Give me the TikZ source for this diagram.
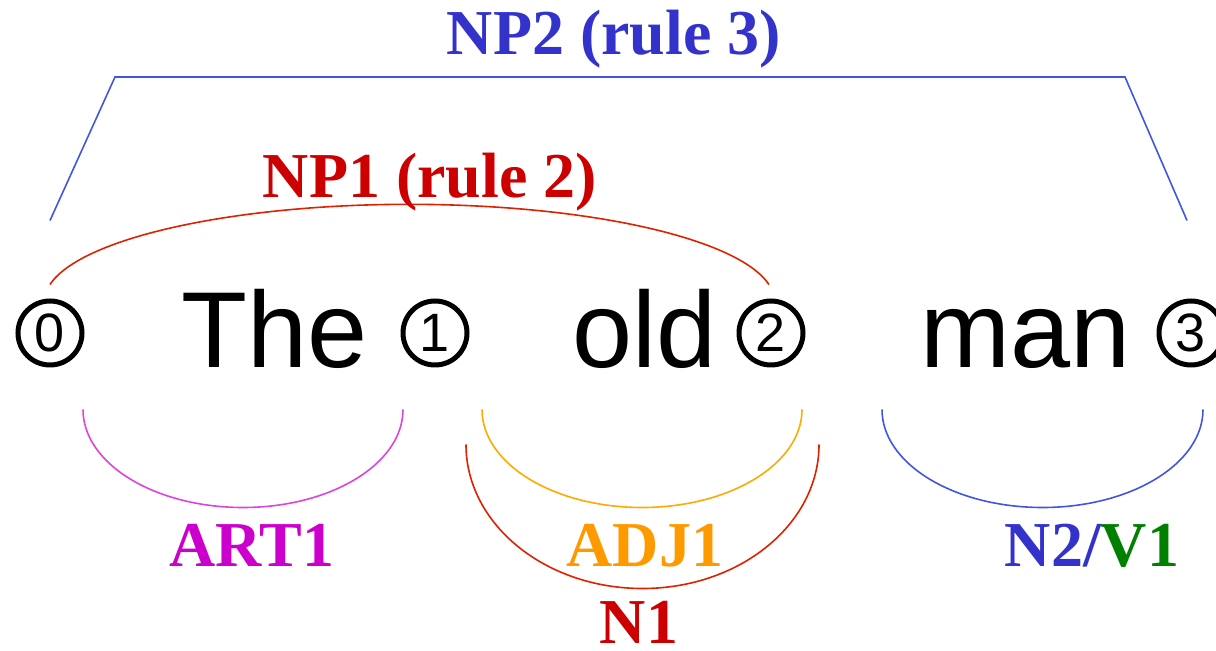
\documentclass[tikz,border=0pt]{standalone}
\usepackage{fontspec}
\setmainfont{Liberation Serif}
\setsansfont{Liberation Sans}
\usepackage{tikz}
\definecolor{nptwo}{RGB}{51,51,204}
\definecolor{nptwoline}{RGB}{68,85,221}
\definecolor{npone}{RGB}{204,0,0}
\definecolor{nponeline}{RGB}{221,34,0}
\definecolor{artcol}{RGB}{204,0,204}
\definecolor{artline}{RGB}{221,68,221}
\definecolor{adjcol}{RGB}{255,153,0}
\definecolor{adjline}{RGB}{255,170,0}
\definecolor{vcol}{RGB}{0,128,0}

\begin{document}
\begin{tikzpicture}[x=0.5pt, y=-0.5pt,
			numnode/.style={draw, circle, line width=2.5pt, minimum size=32pt, inner sep=0pt, font=\sffamily\fontsize{27}{27}\selectfont},
			wordnode/.style={anchor=base, inner sep=0pt, font=\sffamily\fontsize{54}{54}\selectfont},
			labnode/.style={anchor=base, inner sep=0pt, font=\bfseries\fontsize{32}{32}\selectfont},
			thinline/.style={line width=0.8pt}
		]
		\useasboundingbox (0,0) rectangle (1216,651);

		\node[numnode] (n0) at (50,333) {0};
		\node[wordnode] (w1) at (275,368) {The};
		\node[numnode] (n1) at (435,333) {1};
		\node[wordnode] (w2) at (645,368) {old};
		\node[numnode] (n2) at (771,333) {2};
		\node[wordnode] (w3) at (1026,368) {man};
		\node[numnode] (n3) at (1191,333) {3};

		\coordinate (t0) at (115,77);
		\coordinate (t1) at (1125,77);
		\draw[thinline, nptwoline] ([yshift=39pt]n0.north) -- (t0) -- (t1) -- ([xshift=-2pt,yshift=39pt]n3.north);
		\node[labnode, nptwo] (np2) at (614,55) {NP2 (rule 3)};

		\draw[thinline, nponeline] ([yshift=7pt]n0.north) arc[start angle=170, end angle=10, x radius=182.5pt, y radius=48.5pt];
		\node[labnode, npone] (np1) at (430,198) {NP1 (rule 2)};

		\draw[thinline, artline] ([xshift=16.5pt,yshift=-21pt]n0.south) arc[start angle=180, end angle=360, x radius=80pt, y radius=49pt];
		\node[labnode, artcol] (art) at (252,567) {ART1};

		\draw[thinline, adjline] ([xshift=23.5pt,yshift=-21pt]n1.south) arc[start angle=180, end angle=360, x radius=80pt, y radius=49pt];
		\node[labnode, adjcol] (adj) at (645,567) {ADJ1};

		\draw[thinline, nponeline] ([xshift=15.5pt,yshift=-38.5pt]n1.south) arc[start angle=180, end angle=360, x radius=88.25pt, y radius=72pt];
		\node[labnode, npone] (nn1) at (639,644) {N1};

		\draw[thinline, nptwoline] ([xshift=55.5pt,yshift=-21pt]n2.south) arc[start angle=180, end angle=360, x radius=80.25pt, y radius=49pt];
		\node[labnode] (nv) at (1092,567) {\color{nptwo}N2/\color{vcol}V1};

	\end{tikzpicture}
\end{document}
